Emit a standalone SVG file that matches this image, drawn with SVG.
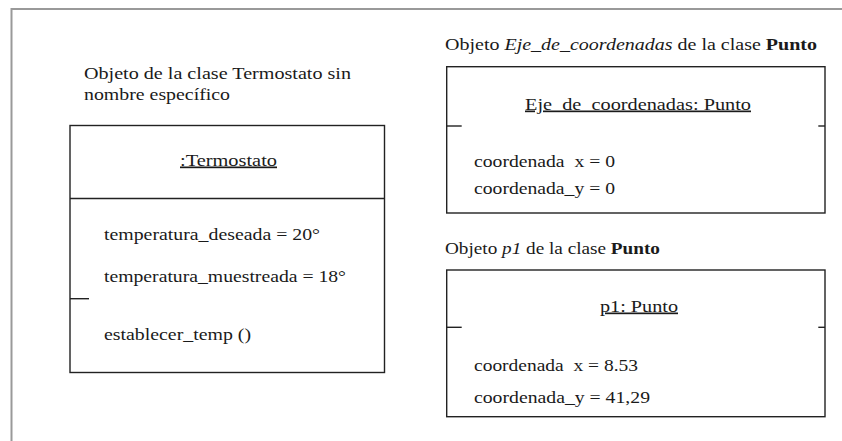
<svg xmlns="http://www.w3.org/2000/svg" width="842" height="441" viewBox="0 0 842 441">
<style>
text{font-family:'Liberation Serif','Times New Roman',serif;font-size:17px;fill:#1a1a1a}
.box{fill:#fff;stroke:#222;stroke-width:1.4}
.tick{stroke:#222;stroke-width:1.4}
.frame{stroke:#999;stroke-width:2;fill:none}
.u{text-decoration:underline}
</style>
<rect width="842" height="441" fill="#fff"/>
<path class="frame" d="M11.5 441 V9 H842"/>
<g id="connectors"/>
<g id="termostato">
<text x="84" y="79" textLength="267" lengthAdjust="spacingAndGlyphs">Objeto de la clase Termostato sin</text>
<text x="84" y="100" textLength="146" lengthAdjust="spacingAndGlyphs">nombre específico</text>
<rect class="box" x="70" y="125.5" width="314.5" height="247"/>
<line class="tick" x1="70" y1="198.5" x2="384.5" y2="198.5"/>
<line class="tick" x1="70" y1="298.7" x2="89" y2="298.7"/>
<text class="u" x="180" y="165.5" textLength="97" lengthAdjust="spacingAndGlyphs">:Termostato</text>
<text x="104" y="239.5" textLength="216" lengthAdjust="spacingAndGlyphs">temperatura_deseada = 20°</text>
<text x="104" y="282" textLength="242" lengthAdjust="spacingAndGlyphs">temperatura_muestreada = 18°</text>
<text x="104" y="340" textLength="147" lengthAdjust="spacingAndGlyphs">establecer_temp ()</text>
</g>
<g id="eje_de_coordenadas">
<text x="445" y="49.5" textLength="372" lengthAdjust="spacingAndGlyphs">Objeto <tspan font-style="italic">Eje_de_coordenadas</tspan> de la clase <tspan font-weight="bold">Punto</tspan></text>
<rect class="box" x="446.7" y="66.7" width="378.3" height="146.3"/>
<line class="tick" x1="446.7" y1="126" x2="461.7" y2="126"/>
<line class="tick" x1="818.3" y1="126" x2="825" y2="126"/>
<text class="u" x="525" y="109.5" textLength="226" lengthAdjust="spacingAndGlyphs">Eje_de_coordenadas: Punto</text>
<text x="474" y="167" textLength="141" lengthAdjust="spacingAndGlyphs" xml:space="preserve">coordenada  x = 0</text>
<text x="474" y="194" textLength="141" lengthAdjust="spacingAndGlyphs">coordenada_y = 0</text>
</g>
<g id="p1">
<text x="445" y="253.5" textLength="215" lengthAdjust="spacingAndGlyphs">Objeto <tspan font-style="italic">p1</tspan> de la clase <tspan font-weight="bold">Punto</tspan></text>
<rect class="box" x="446.7" y="270" width="378.3" height="146.7"/>
<line class="tick" x1="446.7" y1="327.3" x2="461.7" y2="327.3"/>
<line class="tick" x1="818.3" y1="327.3" x2="825" y2="327.3"/>
<text class="u" x="600" y="311.5" textLength="78" lengthAdjust="spacingAndGlyphs">p1: Punto</text>
<text x="474" y="370.5" textLength="164" lengthAdjust="spacingAndGlyphs" xml:space="preserve">coordenada  x = 8.53</text>
<text x="474" y="403" textLength="176" lengthAdjust="spacingAndGlyphs">coordenada_y = 41,29</text>
</g>
</svg>
